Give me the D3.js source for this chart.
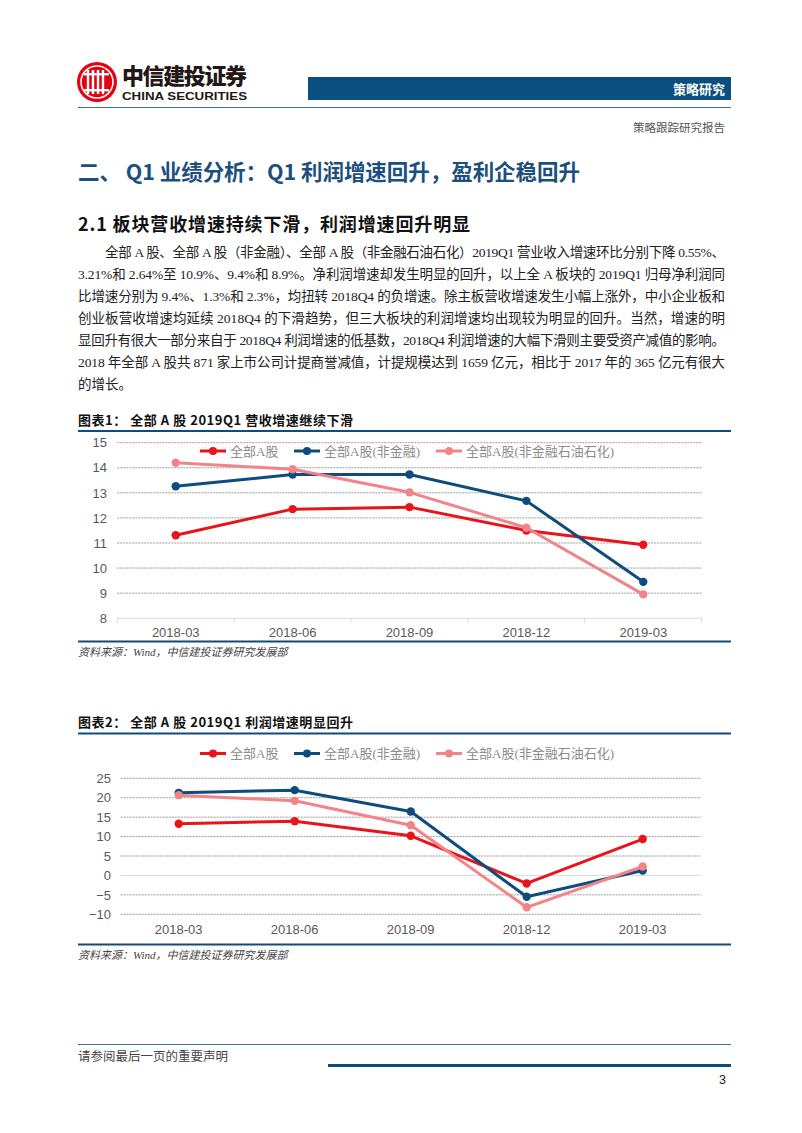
<!DOCTYPE html>
<html><head><meta charset="utf-8">
<script src="https://cdn.jsdelivr.net/npm/d3@7"></script>
<style>
html,body{margin:0;padding:0;background:#fff;}
svg{display:block;}
</style></head>
<body>
<svg id="page" width="802" height="1133"></svg>
<script>
// ---------- data ----------
const categories = ["2018-03","2018-06","2018-09","2018-12","2019-03"];
const seriesNames = ["全部A股","全部A股(非金融)","全部A股(非金融石油石化)"];
const seriesColors = ["#e8141b","#0e4c7d","#f28489"];
// Chart 1: revenue growth (%)
const revAll = [11.31, 12.35, 12.43, 11.50, 10.93];
const revNonFin = [13.26, 13.73, 13.73, 12.68, 9.45];
const revNonFinOil = [14.20, 13.94, 13.02, 11.61, 8.95];
const revTicks = [8,9,10,11,12,13,14,15];
// Chart 2: profit growth (%)
const profAll = [13.3, 13.97, 10.2, -2.06, 9.36];
const profNonFin = [21.26, 21.95, 16.47, -5.5, 1.29];
const profNonFinOil = [20.66, 19.2, 12.94, -8.2, 2.3];
const profTicks = [-10,-5,0,5,10,15,20,25];

const paraLines = [
 "全部 A 股、全部 A 股（非金融）、全部 A 股（非金融石油石化）2019Q1 营业收入增速环比分别下降 0.55%、",
 "3.21%和 2.64%至 10.9%、9.4%和 8.9%。净利润增速却发生明显的回升，以上全 A 板块的 2019Q1 归母净利润同",
 "比增速分别为 9.4%、1.3%和 2.3%，均扭转 2018Q4 的负增速。除主板营收增速发生小幅上涨外，中小企业板和",
 "创业板营收增速均延续  2018Q4  的下滑趋势，但三大板块的利润增速均出现较为明显的回升。当然，增速的明",
 "显回升有很大一部分来自于 2018Q4 利润增速的低基数，2018Q4 利润增速的大幅下滑则主要受资产减值的影响。",
 "2018 年全部 A 股共 871 家上市公司计提商誉减值，计提规模达到 1659 亿元，相比于 2017 年的 365 亿元有很大",
 "的增长。"
];

const svg = d3.select("#page");
const SERIF = "'Liberation Serif','Noto Sans CJK SC',serif";
const SANS = "'Noto Sans CJK SC','Liberation Sans',sans-serif";
const ARIAL = "'Liberation Sans',Arial,sans-serif";
const BLUE = "#0e4c7d";
const L = 78, R = 731;

// ---------- header ----------
const logo = svg.append("g");
logo.append("circle").attr("cx",97).attr("cy",82).attr("r",20).attr("fill","#e60012");
logo.append("circle").attr("cx",97).attr("cy",82).attr("r",16).attr("fill","none").attr("stroke","#fff").attr("stroke-width",1.6);
[88,93,98,103].forEach((x,i)=>{
  logo.append("rect").attr("x",x-1.2).attr("y",70).attr("width",2.4).attr("height",24).attr("fill","#fff");
});
logo.append("rect").attr("x",84).attr("y",73).attr("width",25).attr("height",2.4).attr("fill","#fff");
logo.append("rect").attr("x",84).attr("y",89).attr("width",25).attr("height",2.4).attr("fill","#fff");
svg.append("text").attr("x",122).attr("y",84).attr("font-family",SANS).attr("font-weight","900")
  .attr("font-size",22).attr("fill","#231815").attr("textLength",125).text("中信建投证券");
svg.append("text").attr("x",122).attr("y",100).attr("font-family",ARIAL).attr("font-weight","bold")
  .attr("font-size",11.5).attr("fill","#231815").attr("textLength",125).attr("lengthAdjust","spacingAndGlyphs").text("CHINA SECURITIES");
svg.append("rect").attr("x",308).attr("y",77).attr("width",R-308).attr("height",23).attr("fill","#0b4f80");
svg.append("text").attr("x",725).attr("y",94).attr("text-anchor","end").attr("font-family",SANS)
  .attr("font-weight","bold").attr("font-size",13).attr("fill","#fff").text("策略研究");
svg.append("line").attr("x1",L).attr("x2",R).attr("y1",107.5).attr("y2",107.5).attr("stroke","#3d6f9a").attr("stroke-width",1);
svg.append("text").attr("x",725).attr("y",132).attr("text-anchor","end").attr("font-family",SANS)
  .attr("font-size",11.5).attr("fill","#555").text("策略跟踪研究报告");

// ---------- headings ----------
svg.append("text").attr("x",L).attr("y",180).attr("font-family",SANS).attr("font-weight","bold")
  .attr("font-size",21.5).attr("fill","#1b4f7e").attr("textLength",502)
  .text("二、 Q1 业绩分析：Q1 利润增速回升，盈利企稳回升");
svg.append("text").attr("x",L).attr("y",231).attr("font-family",SANS).attr("font-weight","bold")
  .attr("font-size",18).attr("fill","#111").attr("textLength",392)
  .text("2.1  板块营收增速持续下滑，利润增速回升明显");

// ---------- paragraph ----------
const lineY0 = 257, lineGap = 22;
paraLines.forEach((t,i)=>{
  const x = i===0 ? 105 : L;
  const tx = svg.append("text").attr("x",x).attr("y",lineY0+i*lineGap).attr("font-family",SERIF)
    .attr("font-size",13.5).attr("fill","#222").text(t);
  if(i < paraLines.length-1) tx.attr("textLength",725-x).attr("lengthAdjust","spacing");
});

// ---------- chart builder ----------
function chart(opt){
  const g = svg.append("g");
  g.append("text").attr("x",L).attr("y",opt.titleY).attr("font-family",SANS).attr("font-weight","bold")
    .attr("font-size",13).attr("fill","#111").attr("textLength",275).text(opt.title);
  g.append("line").attr("x1",L).attr("x2",R).attr("y1",opt.topLine).attr("y2",opt.topLine)
    .attr("stroke",BLUE).attr("stroke-width",2.2);
  g.append("line").attr("x1",L).attr("x2",R).attr("y1",opt.botLine).attr("y2",opt.botLine)
    .attr("stroke",BLUE).attr("stroke-width",1.8);
  g.append("text").attr("x",L).attr("y",opt.botLine+14).attr("font-family",SERIF).attr("font-style","italic")
    .attr("font-size",11).attr("fill","#444").text("资料来源：Wind，中信建投证券研究发展部");

  const x = d3.scaleBand().domain(categories).range(opt.xRange);
  const y = d3.scaleLinear().domain(d3.extent(opt.ticks)).range(opt.yRange);

  opt.ticks.forEach(t=>{
    const isAxis = t===opt.axisAt;
    g.append("line").attr("x1",opt.xRange[0]).attr("x2",opt.xRange[1])
      .attr("y1",y(t)).attr("y2",y(t))
      .attr("stroke", isAxis ? "#d9d9d9" : "#9a9a9a")
      .attr("stroke-width",1)
      .attr("stroke-dasharray", isAxis ? null : "2,1");
  });
  const ya = g.append("g").attr("transform",`translate(${opt.yLabelX},0)`)
    .call(d3.axisLeft(y).tickValues(opt.ticks).tickSize(0).tickPadding(0).tickFormat(d3.format("d")));
  ya.select(".domain").remove();
  ya.selectAll("text").attr("font-family",ARIAL).attr("font-size",13).attr("fill","#595959");
  const xa = g.append("g").attr("transform",`translate(0,${opt.xLabelY})`)
    .call(d3.axisBottom(x).tickSize(0).tickPadding(0));
  xa.select(".domain").remove();
  xa.selectAll("text").attr("font-family",ARIAL).attr("font-size",13).attr("fill","#595959").attr("dy","0.35em");
  if(opt.tickMarks){
    const bounds = categories.map(c=>x(c)).concat([opt.xRange[1]]);
    bounds.forEach(b=>{
      g.append("line").attr("x1",b).attr("x2",b).attr("y1",y(opt.axisAt)).attr("y2",y(opt.axisAt)+5)
        .attr("stroke","#d9d9d9").attr("stroke-width",1);
    });
  }
  const cx = c => x(c)+x.bandwidth()/2;
  opt.series.forEach((vals,si)=>{
    const line = d3.line().x((d,i)=>cx(categories[i])).y(d=>y(d));
    g.append("path").datum(vals).attr("d",line).attr("fill","none")
      .attr("stroke",seriesColors[si]).attr("stroke-width",3).attr("stroke-linejoin","round");
    g.selectAll(null).data(vals).enter().append("circle")
      .attr("cx",(d,i)=>cx(categories[i])).attr("cy",d=>y(d)).attr("r",4.2)
      .attr("fill",seriesColors[si]);
  });
  const legX = [200, 294, 436];
  seriesNames.forEach((n,si)=>{
    const lg = g.append("g").attr("transform",`translate(${legX[si]},${opt.legendY})`);
    lg.append("line").attr("x1",0).attr("x2",26).attr("stroke",seriesColors[si]).attr("stroke-width",3);
    lg.append("circle").attr("cx",13).attr("cy",0).attr("r",4).attr("fill",seriesColors[si]);
    lg.append("text").attr("x",30).attr("y",0).attr("dy","0.35em").attr("font-family",SERIF)
      .attr("font-size",13).attr("fill","#8c8c8c").text(n);
  });
}

chart({
  title:"图表1：   全部 A 股 2019Q1 营收增速继续下滑",
  titleY:425, topLine:431, botLine:641.5,
  xRange:[117.3,701.7], yRange:[618.2,442.7], ticks:revTicks, axisAt:8,
  yLabelX:107, xLabelY:632, legendY:451, tickMarks:true,
  series:[revAll,revNonFin,revNonFinOil]
});
chart({
  title:"图表2：   全部 A 股 2019Q1 利润增速明显回升",
  titleY:727, topLine:733.5, botLine:944.5,
  xRange:[120.7,700.7], yRange:[914.3,778.3], ticks:profTicks, axisAt:0,
  yLabelX:111, xLabelY:929, legendY:753.5, tickMarks:false,
  series:[profAll,profNonFin,profNonFinOil]
});

// ---------- footer ----------
svg.append("line").attr("x1",L).attr("x2",R).attr("y1",1044.5).attr("y2",1044.5).attr("stroke","#3d6f9a").attr("stroke-width",1);
svg.append("text").attr("x",L).attr("y",1061).attr("font-family",SERIF).attr("font-size",12.5)
  .attr("fill","#444").text("请参阅最后一页的重要声明");
svg.append("line").attr("x1",328).attr("x2",R).attr("y1",1065.5).attr("y2",1065.5).attr("stroke","#0e4c7d").attr("stroke-width",3);
svg.append("text").attr("x",726).attr("y",1084).attr("text-anchor","end").attr("font-family",ARIAL)
  .attr("font-size",12.5).attr("fill","#222").text("3");
</script>
</body></html>
